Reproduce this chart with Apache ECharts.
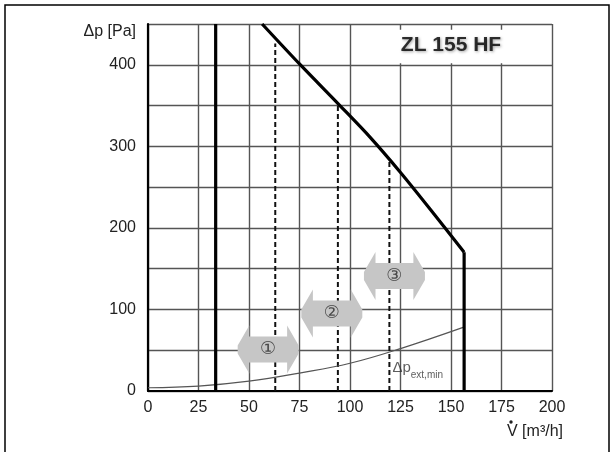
<!DOCTYPE html>
<html>
<head>
<meta charset="utf-8">
<script src="https://cdn.jsdelivr.net/npm/echarts@6/dist/echarts.min.js"></script>
<style>html,body{margin:0;padding:0;background:#fff}#c{width:614px;height:452px}</style>
</head>
<body>
<div id="c"></div>
<script>
// Data
const xTicks = [0, 25, 50, 75, 100, 125, 150, 175, 200];
const yTickLabels = [0, 100, 200, 300, 400];
const curveX = [56.5, 75, 95, 110, 125, 140, 156.5];
const curveY = [450, 401, 350, 311, 268, 222, 170];
const maxFlowX = [156.5, 156.5];
const maxFlowY = [170, 0];
const minFlowX = [33.5, 33.5];
const minFlowY = [0, 450];
const extMinX = [0, 25, 50, 75, 100, 125, 156];
const extMinY = [4, 6, 12, 22, 34, 52, 78];
const dashX = [63, 94, 119.5];
const dashTop = [426, 352, 281];
const arrowX = [59.5, 91, 122];
const arrowY = [51, 95, 141];
const arrowLabels = ['①', '②', '③'];
const titleText = 'ZL 155 HF';
const titleBoxX = [103, 197];
const titleBoxY = [402, 443];

const font = '"Liberation Sans", Arial, sans-serif';
const zip = (a, b) => a.map((v, i) => [v, b[i]]);

const arrowPath = 'path://M12,0 L1,20 L1,28 L12,48 L12,37 L48,37 L48,48 L59,28 L59,20 L48,0 L48,11 L12,11 Z';

const series = [];
// title white box
series.push({
  type: 'line', data: [], silent: true,
  markArea: {
    silent: true,
    itemStyle: { color: '#fff' },
    data: [[{ xAxis: titleBoxX[0], yAxis: titleBoxY[0] }, { xAxis: titleBoxX[1], yAxis: titleBoxY[1] }]]
  }
});
// dashed lines
dashX.forEach((x, i) => {
  series.push({
    type: 'line', data: [[x, 0], [x, dashTop[i]]], symbol: 'none', z: 3,
    lineStyle: { color: '#111', width: 2, type: [5, 3] }
  });
});
// ext min curve
series.push({
  type: 'line', data: zip(extMinX, extMinY), symbol: 'none', smooth: 0.4, z: 3,
  lineStyle: { color: '#555', width: 1.2 }
});
// min flow vertical
series.push({
  type: 'line', data: zip(minFlowX, minFlowY), symbol: 'none', z: 4,
  lineStyle: { color: '#000', width: 3.2 }
});
// main curve
series.push({
  type: 'line', data: zip(curveX, curveY), symbol: 'none', z: 4, smooth: 0.3,
  lineStyle: { color: '#000', width: 3.2 }
});
series.push({
  type: 'line', data: zip(maxFlowX, maxFlowY), symbol: 'none', z: 4,
  lineStyle: { color: '#000', width: 3.2 }
});
// arrows
series.push({
  type: 'scatter', z: 5,
  data: arrowX.map((x, i) => ({ value: [x, arrowY[i]], name: arrowLabels[i] })),
  symbol: arrowPath, symbolSize: [61, 48],
  itemStyle: { color: '#c6c6c6', opacity: 1 },
  label: {
    show: true, position: 'inside', formatter: p => p.name,
    fontFamily: '"DejaVu Sans", sans-serif', fontSize: 18, color: '#4a4a4a'
  }
});
// delta p ext,min label
series.push({
  type: 'scatter', z: 6, symbolSize: 0,
  data: [[121, 30]],
  label: {
    show: true, position: 'right', distance: 0,
    formatter: '{a|Δp}{b|ext,min}',
    rich: {
      a: { fontFamily: font, fontSize: 15, color: '#333', lineHeight: 18, verticalAlign: 'bottom' },
      b: { fontFamily: font, fontSize: 10, color: '#333', lineHeight: 18, verticalAlign: 'bottom', padding: [0, 0, -5, 0] }
    }
  }
});
// title text
series.push({
  type: 'scatter', z: 6, symbolSize: 0,
  data: [[150, 424]],
  label: {
    show: true, position: 'inside', formatter: titleText,
    fontFamily: font, fontWeight: 'bold', fontSize: 21, color: '#000',
    textShadowColor: 'rgba(0,0,0,0.45)', textShadowBlur: 3, textShadowOffsetX: 1, textShadowOffsetY: 1
  }
});

const chart = echarts.init(document.getElementById('c'), null, { renderer: 'canvas' });
chart.setOption({
  animation: false,
  backgroundColor: '#fff',
  grid: { left: 148, right: 62, top: 24, bottom: 61, containLabel: false },
  xAxis: {
    type: 'value', min: xTicks[0], max: xTicks[xTicks.length - 1], interval: 25,
    name: 'V [m³/h]', nameLocation: 'end', nameGap: 0,
    nameTextStyle: { fontFamily: font, fontSize: 16, color: '#222', align: 'right', verticalAlign: 'top', padding: [33, -11, 0, 0] },
    axisLine: { lineStyle: { color: '#000', width: 2.2 } },
    axisTick: { show: false },
    axisLabel: { fontFamily: font, fontSize: 16, color: '#222', margin: 9, showMaxLabel: true, showMinLabel: true },
    splitLine: { lineStyle: { color: '#555', width: 1.4 } }
  },
  yAxis: {
    type: 'value', min: 0, max: 450, interval: 50,
    name: 'Δp [Pa]', nameLocation: 'end', nameGap: 0,
    nameTextStyle: { fontFamily: font, fontSize: 16, color: '#222', align: 'right', verticalAlign: 'top', padding: [0, 12, 0, 0] },
    axisLine: { show: true, lineStyle: { color: '#000', width: 2.2 } },
    axisTick: { show: false },
    axisLabel: {
      fontFamily: font, fontSize: 16, color: '#222', margin: 12,
      formatter: v => yTickLabels.indexOf(v) >= 0 ? String(v) : ''
    },
    splitLine: { lineStyle: { color: '#555', width: 1.4 } }
  },
  graphic: [{
    type: 'rect', silent: true, z: 100,
    shape: { x: 5, y: 5, width: 604, height: 470 },
    style: { fill: 'none', stroke: '#000', lineWidth: 1.5 }
  }, {
    type: 'circle', silent: true, z: 100,
    shape: { cx: 511, cy: 422, r: 1.7 },
    style: { fill: '#222' }
  }],
  series: series
});
</script>
</body>
</html>
